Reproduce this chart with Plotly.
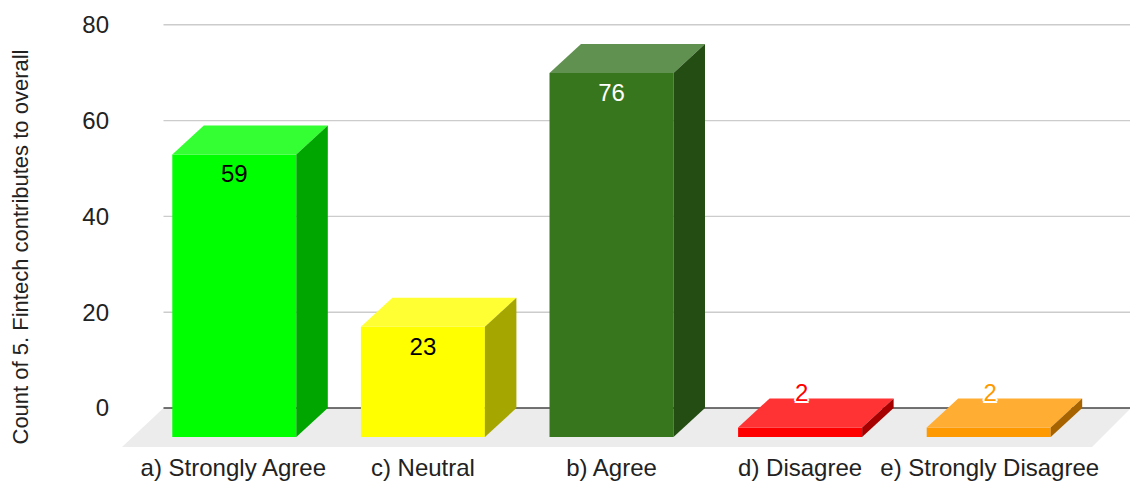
import plotly.graph_objects as go

# Survey responses, in the order they are charted
categories = ["a) Strongly Agree", "c) Neutral", "b) Agree", "d) Disagree", "e) Strongly Disagree"]
values = [59, 23, 76, 2, 2]
y_ticks = [0, 20, 40, 60, 80]
y_title = "Count of 5. Fintech contributes to overall"

front_colors = ["#00ff00", "#ffff00", "#38761d", "#ff0000", "#ff9900"]
top_colors = ["#33ff33", "#ffff33", "#609150", "#ff3333", "#ffad33"]
side_colors = ["#00a600", "#a6a600", "#244d13", "#a60000", "#a66300"]
label_colors = ["#000000", "#000000", "#ffffff", "#ff0000", "#ff9900"]

# Page geometry of the plot area
WIDTH, HEIGHT = 1130, 482
LEFT, RIGHT, TOP, BOTTOM = 122, 1130, 10, 447
FIRST_BAR_CENTER = 234.3
CATEGORY_STEP = 188.6
ZERO_PX = 408
UNIT_PX = 4.79


def x_at(px):
    return (px - FIRST_BAR_CENTER) / CATEGORY_STEP


def y_at(px):
    return (ZERO_PX - px) / UNIT_PX


# Oblique extrusion of each bar, in axis units
half_width = 62 / CATEGORY_STEP
depth_x = 31.5 / CATEGORY_STEP
depth_y = 29 / UNIT_PX
label_drop = 22 / UNIT_PX
short_bar_lift = 0.7
tick_nudges = [-1 / CATEGORY_STEP, 0, 0, 0, 1 / CATEGORY_STEP]

positions = list(range(len(values)))
fig = go.Figure()

# Front faces
fig.add_trace(go.Bar(
    x=positions,
    y=values,
    base=[-depth_y] * len(values),
    width=half_width * 2,
    marker=dict(color=front_colors, line=dict(width=0)),
    hoverinfo="skip",
))

# Top and side faces follow from the same values
for i, v in enumerate(values):
    left = i - half_width
    right = i + half_width
    fig.add_trace(go.Scatter(
        x=[left, right, right + depth_x, left + depth_x, left],
        y=[v - depth_y, v - depth_y, v, v, v - depth_y],
        mode="lines", fill="toself", fillcolor=top_colors[i],
        line=dict(width=0), hoverinfo="skip",
    ))
    fig.add_trace(go.Scatter(
        x=[right, right + depth_x, right + depth_x, right, right],
        y=[v - depth_y, v, 0, -depth_y, v - depth_y],
        mode="lines", fill="toself", fillcolor=side_colors[i],
        line=dict(width=0), hoverinfo="skip",
    ))

# Value labels: on the front face for tall bars, above the lid for short ones.
# Short-bar labels carry a white outline so they stay legible on their own colour.
halo = ", ".join(
    f"{dx}px {dy}px 0 #ffffff"
    for dx, dy in [(-2, 0), (2, 0), (0, -2), (0, 2), (-1.5, -1.5), (1.5, -1.5), (-1.5, 1.5), (1.5, 1.5)]
)
for i, v in enumerate(values):
    short = v < 10
    fig.add_trace(go.Scatter(
        x=[i + (1.5 / CATEGORY_STEP if short else 0)],
        y=[v + short_bar_lift if short else v - depth_y - label_drop],
        mode="text",
        text=[str(v)],
        textposition="middle center",
        textfont=dict(
            family="Liberation Sans, Arial, sans-serif",
            size=24,
            color=label_colors[i],
            shadow=halo if short else "none",
        ),
        hoverinfo="skip",
    ))

# Floor, gridlines and baseline sit behind the bars
shapes = [dict(
    type="path",
    path=(f"M {x_at(122)} {y_at(447)} L {x_at(163.5)} 0 "
          f"L {x_at(1131)} 0 L {x_at(1092)} {y_at(447)} Z"),
    xref="x", yref="y", fillcolor="#ececec", line=dict(width=0), layer="below",
)]
for t in y_ticks:
    shapes.append(dict(
        type="line", xref="x", yref="y",
        x0=x_at(163.5), x1=x_at(1130), y0=t, y1=t,
        line=dict(color="#444444" if t == 0 else "#cccccc", width=1.4),
        layer="below",
    ))

fig.update_layout(
    width=WIDTH,
    height=HEIGHT,
    margin=dict(l=LEFT, r=WIDTH - RIGHT, t=TOP, b=HEIGHT - BOTTOM, pad=0),
    paper_bgcolor="#ffffff",
    plot_bgcolor="rgba(0,0,0,0)",
    showlegend=False,
    shapes=shapes,
    font=dict(family="Liberation Sans, Arial, sans-serif", color="#222222"),
    xaxis=dict(
        range=[x_at(LEFT), x_at(RIGHT)],
        tickmode="array",
        tickvals=[p + n for p, n in zip(positions, tick_nudges)],
        ticktext=categories,
        tickfont=dict(size=24, color="#222222"),
        showgrid=False, zeroline=False, showline=False, ticks="",
        ticklabelstandoff=4,
        fixedrange=True,
    ),
    yaxis=dict(
        range=[y_at(BOTTOM), y_at(TOP)],
        tickmode="array",
        tickvals=y_ticks,
        ticktext=[str(t) for t in y_ticks],
        tickfont=dict(size=24, color="#222222"),
        showgrid=False, zeroline=False, showline=False, ticks="",
        ticklabelstandoff=12,
        fixedrange=True,
    ),
    annotations=[dict(
        text=y_title,
        textangle=-90,
        xref="paper", yref="paper",
        x=(20 - LEFT) / (RIGHT - LEFT),
        y=(BOTTOM - 247.5) / (BOTTOM - TOP),
        xanchor="center", yanchor="middle",
        showarrow=False,
        font=dict(size=22, color="#222222"),
    )],
)

fig.write_html("out.html", config=dict(displayModeBar=False))
